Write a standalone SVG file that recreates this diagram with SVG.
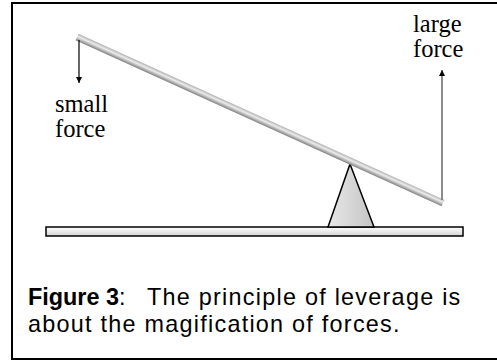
<svg xmlns="http://www.w3.org/2000/svg" width="497" height="362" viewBox="0 0 497 362">
<style>
.serif{font-family:"Liberation Serif","Times New Roman",serif;font-size:24.5px;fill:#000}
.cap{font-family:"Liberation Sans",Arial,sans-serif;font-size:23.4px;fill:#000;letter-spacing:1.25px}
.b{font-weight:bold;letter-spacing:0}
.edge{stroke:#000;stroke-width:1.5}
</style>
<defs>
<linearGradient id="lev" x1="0" y1="0" x2="0" y2="1">
<stop offset="0" stop-color="#b0b0b0"/>
<stop offset="0.4" stop-color="#ececec"/>
<stop offset="1" stop-color="#808080"/>
</linearGradient>
<linearGradient id="ful" x1="0" y1="0" x2="1" y2="0">
<stop offset="0" stop-color="#e8e8e8"/>
<stop offset="1" stop-color="#c4c4c4"/>
</linearGradient>
<linearGradient id="pl" x1="0" y1="0" x2="0" y2="1">
<stop offset="0" stop-color="#ffffff"/>
<stop offset="1" stop-color="#d4d4d4"/>
</linearGradient>
<marker id="ah" viewBox="0 0 10 10" refX="10" refY="5" markerWidth="6" markerHeight="6" orient="auto" markerUnits="userSpaceOnUse">
<path d="M0,0 L10,5 L0,10 z" fill="#000"/>
</marker>
</defs>
<rect x="12" y="3" width="492" height="356" fill="#fff" stroke="#000" stroke-width="2"/>
<g id="plank"><rect class="edge" x="46" y="227" width="417" height="9" fill="url(#pl)"/></g>
<g id="fulcrum"><polygon class="edge" points="350,164 374,227 328,227" fill="url(#ful)"/></g>
<g id="lever"><rect transform="translate(77,37) rotate(24.4)" x="0" y="-3.5" width="402" height="7" fill="url(#lev)"/></g>
<g id="connectors">
<line x1="79" y1="40" x2="79" y2="83" stroke="#000" stroke-width="1.2" marker-end="url(#ah)"/>
<line x1="442" y1="200" x2="442" y2="70" stroke="#666" stroke-width="1.5" marker-end="url(#ah)"/>
</g>
<g id="small-force"><text class="serif" x="55" y="112">small</text><text class="serif" x="55" y="137">force</text></g>
<g id="large-force"><text class="serif" x="413" y="32">large</text><text class="serif" x="413" y="57">force</text></g>
<g id="caption"><text class="cap" x="28" y="305"><tspan class="b">Figure 3</tspan>:<tspan x="147">The principle of leverage is</tspan></text><text class="cap" x="28" y="332">about the magification of forces.</text></g>
</svg>
